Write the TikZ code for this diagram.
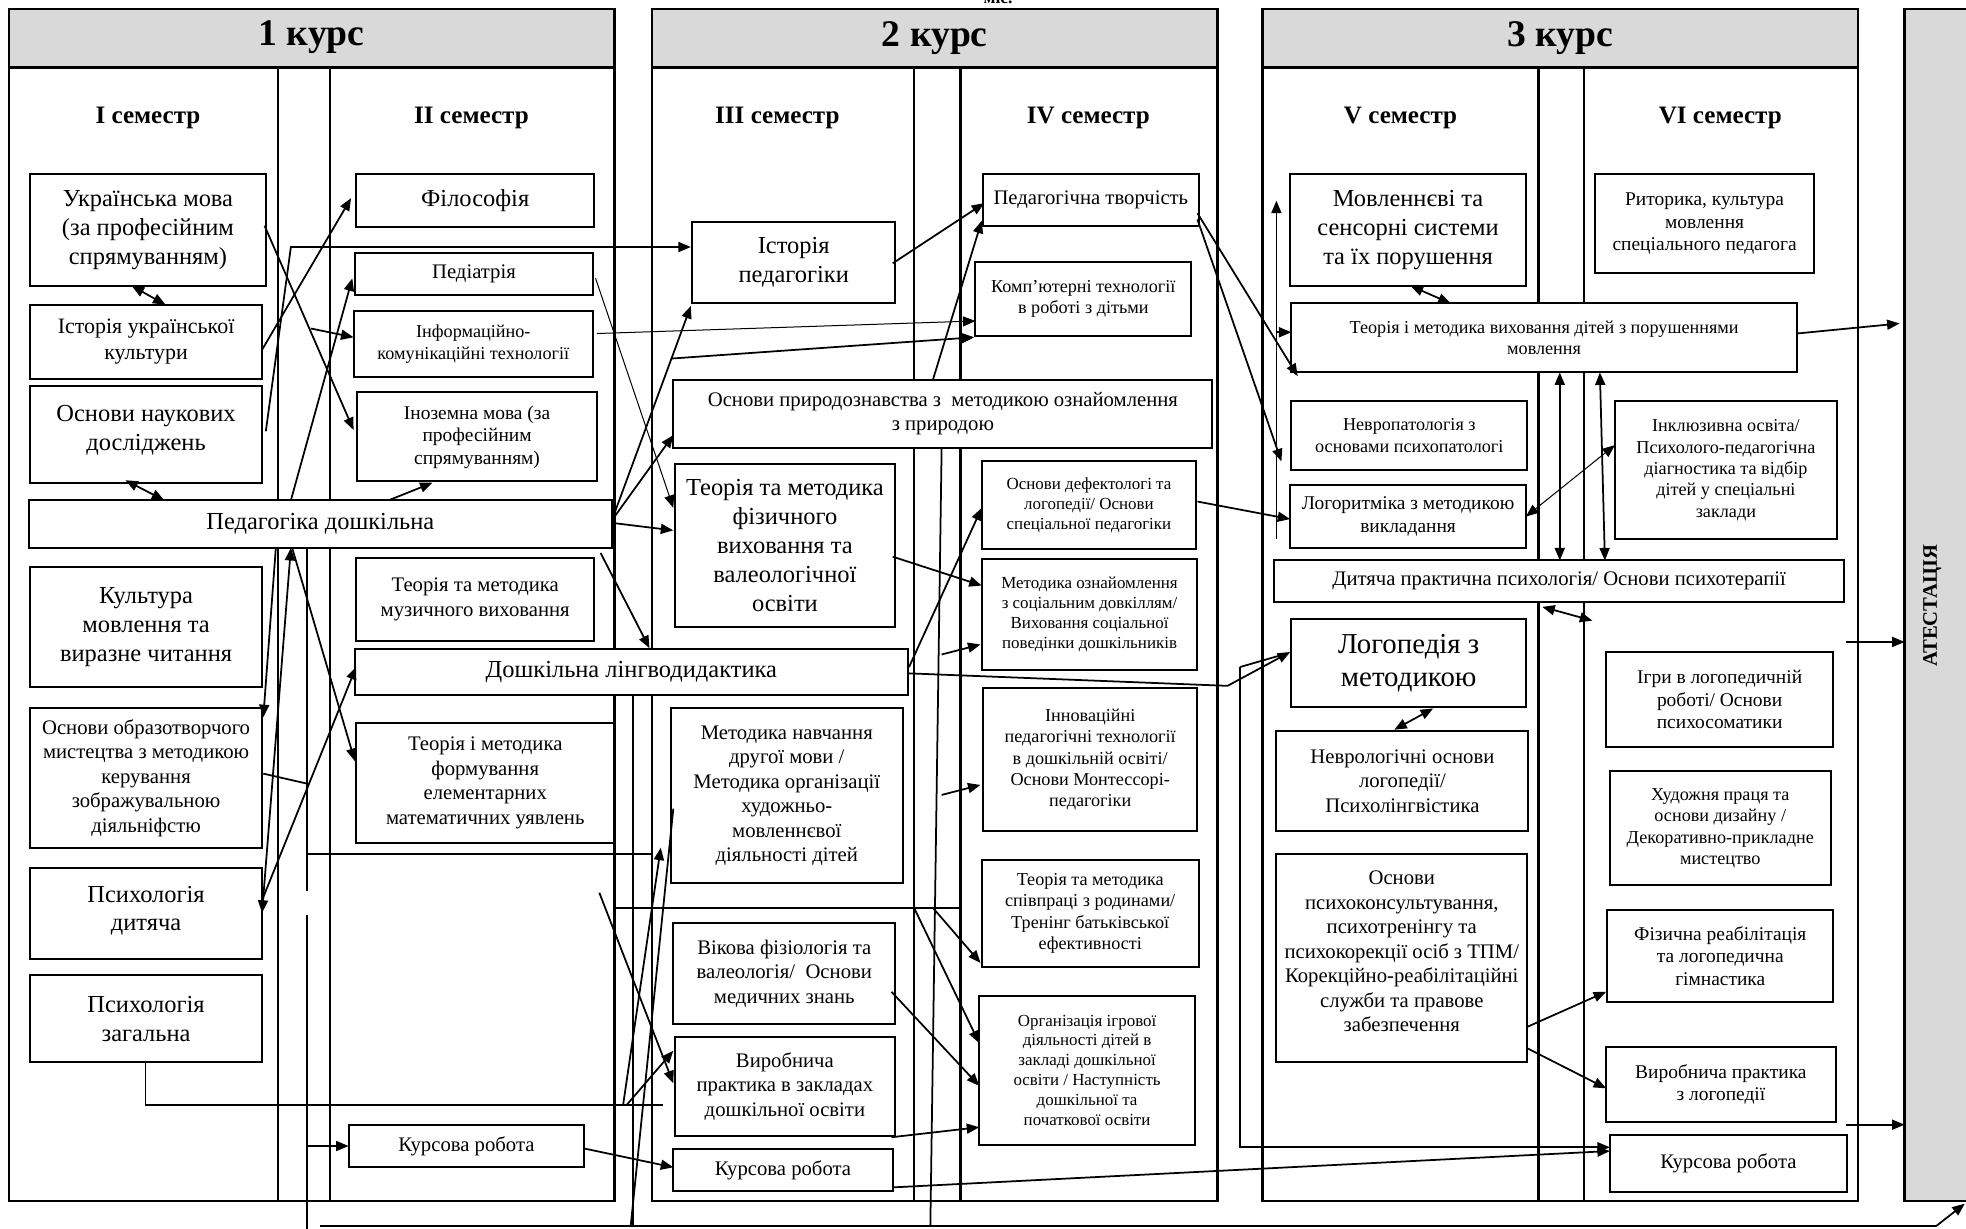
\documentclass[tikz,border=0pt]{standalone}
\usepackage{fontspec}
\setmainfont{Liberation Serif}
\usetikzlibrary{arrows.meta}
\definecolor{hdr}{HTML}{D9D9D9}
\tikzset{
 box/.style={draw, fill=white, line width=1.6pt, inner sep=1pt, align=center},
 frame/.style={draw, line width=2pt},
 ar/.style={line width=1.4pt, -{Triangle[length=10pt,width=8pt]}},
 dar/.style={line width=1.4pt, {Triangle[length=10pt,width=8pt]}-{Triangle[length=10pt,width=8pt]}},
 tar/.style={line width=0.8pt, -{Triangle[length=10pt,width=8pt]}},
 tdar/.style={line width=0.8pt, {Triangle[length=10pt,width=8pt]}-{Triangle[length=10pt,width=8pt]}},
 ln/.style={line width=1.4pt},
 f13/.style={font=\fontsize{13.5}{15.8}\selectfont},
 f14/.style={font=\fontsize{14.5}{17}\selectfont},
 f15/.style={font=\fontsize{15.5}{18}\selectfont},
 f16/.style={font=\fontsize{16.5}{19.5}\selectfont},
 f17/.style={font=\fontsize{17.5}{21}\selectfont},
 f19/.style={font=\fontsize{19.5}{23}\selectfont},
 f22/.style={font=\fontsize{23}{27}\selectfont},
 semt/.style={font=\bfseries\fontsize{20}{24}\selectfont},
 curt/.style={font=\bfseries\fontsize{30}{34}\selectfont},
}
\newcommand\bx[7]{\node[box,#6,minimum width={(#4)-(#2)},minimum height={(#5)-(#3)}] (#1) at ({((#2)+(#4))/2},{((#3)+(#5))/2}) {#7};}
\newcommand\course[6]{%
 \fill[hdr] (#1,7) rectangle (#2,54);
 \draw[frame] (#1,7) rectangle (#2,958);
 \draw[frame] (#1,54) -- (#2,54);
 \draw[line width=1.7pt] (#3,54) -- (#3,958) (#4,54) -- (#4,958);
 \node[curt] (#6) at ({((#1)+(#2))/2},30) {#5};
}
\begin{document}
\begin{tikzpicture}[x=1pt,y=-1pt]
\useasboundingbox (0,0) rectangle (1568,980);
\fill[white] (0,0) rectangle (1568,980);
\node[font=\bfseries\fontsize{14}{16}\selectfont] (mis) at (796,-2) {міс.};

% frames
\course{7}{490}{222}{263}{1 курс}{c1}
\course{520}{971}{729}{766}{2 курс}{c2}
\course{1007}{1482}{1227}{1263}{3 курс}{c3}
\fill[hdr] (1519,7) rectangle (1580,958);
\draw[frame] (1519,7) rectangle (1580,958);
\node[rotate=90,font=\bfseries\fontsize{16.5}{19}\selectfont] (att) at (1541,483) {АТЕСТАЦІЯ};

\node[semt] (s1) at (118,94) {I семестр};
\node[semt] (s2) at (376,94) {II семестр};
\node[semt] (s3) at (620,94) {III семестр};
\node[semt] (s4) at (868,94) {IV семестр};
\node[semt] (s5) at (1117,94) {V семестр};
\node[semt] (s6) at (1372,94) {VI семестр};

% course 1, semester I
\bx{ukr}{24}{139}{212}{228}{f19}{Українська мова\\(за професійним\\спрямуванням)}
\bx{istk}{24}{243}{209}{302}{f17}{Історія української\\культури}
\bx{osnd}{24}{308}{209}{385}{f19}{Основи наукових\\досліджень\\[-12pt]}
\bx{pedd}{23}{399}{488}{437}{f19}{Педагогіка дошкільна}
\bx{kult}{24}{452}{209}{548}{f19}{Культура\\мовлення та\\виразне читання}
\bx{obraz}{24}{565}{209}{676}{f16}{Основи образотворчого\\мистецтва з методикою\\керування\\зображувальною\\діяльніфстю}
\bx{psd}{24}{692}{209}{765}{f19}{Психологія\\дитяча\\[-15pt]}
\bx{psz}{24}{778}{209}{847}{f19}{Психологія\\загальна}
% semester II
\bx{fil}{284}{139}{474}{181}{f19}{Філософія}
\bx{ped}{283}{202}{473}{235}{f16}{Педіатрія}
\bx{ikt}{282}{248}{473}{301}{f14}{Інформаційно-\\комунікаційні технології}
\bx{inoz}{285}{313}{476}{384}{f15}{Іноземна мова (за\\професійним\\спрямуванням)}
\bx{muz}{284}{445}{474}{511}{f16}{Теорія та методика\\музичного виховання}
\bx{dl}{283}{518}{724}{554}{f19}{Дошкільна лінгводидактика}
\bx{fem}{284}{577}{490}{672}{f16}{Теорія і методика\\формування\\елементарних\\математичних уявлень}
\bx{krb}{278}{897}{466}{931}{f16}{Курсова робота}
% semester III
\bx{istp}{552}{177}{714}{242}{f19}{Історія\\педагогіки}
\bx{prir}{537}{303}{967}{357}{f16}{Основи природознавства з~ методикою ознайомлення\\з природою}
\bx{fiz}{538}{370}{714}{500}{f19}{Теорія та методика\\фізичного\\виховання та\\валеологічної\\освіти}
\bx{mnav}{535}{565}{720}{704}{f16}{Методика навчання\\другої мови /\\Методика організації\\художньо-\\мовленнєвої\\діяльності дітей}
\bx{vik}{537}{736}{714}{817}{f16}{Вікова фізіологія та\\валеологія/~ Основи\\медичних знань}
\bx{vyr}{538}{827}{714}{906}{f16}{Виробнича\\практика в закладах\\дошкільної освіти}
\bx{krc}{537}{916}{712}{950}{f16}{Курсова робота}
% semester IV
\bx{tvor}{784}{139}{956}{180}{f16}{Педагогічна творчість}
\bx{komp}{778}{209}{950}{268}{f14}{Комп’ютерні технології\\в роботі з дітьми}
\bx{def}{783}{368}{954}{438}{f13}{Основи дефектологі та\\логопедії/ Основи\\спеціальної педагогіки}
\bx{mozn}{783}{446}{955}{534}{f13}{Методика ознайомлення\\з соціальним довкіллям/\\Виховання соціальної\\поведінки дошкільників}
\bx{inn}{784}{549}{955}{663}{f14}{Інноваційні\\педагогічні технології\\в дошкільній освіті/\\Основи Монтессорі-\\педагогіки}
\bx{spiv}{783}{686}{956}{771}{f14}{Теорія та методика\\співпраці з родинами/\\Тренінг батьківської\\ефективності}
\bx{ihr}{781}{794}{953}{913}{f13}{Організація ігрової\\діяльності дітей в\\закладі дошкільної\\освіти / Наступність\\дошкільної та\\початкової освіти}
% semester V
\bx{movs}{1029}{139}{1217}{228}{f19}{Мовленнєві та\\сенсорні системи\\та їх порушення}
\bx{tmv}{1030}{242}{1433}{297}{f14}{Теорія і методика виховання дітей з порушеннями\\мовлення}
\bx{nevp}{1030}{320}{1218}{375}{f14}{Невропатологія з\\основами психопатологі}
\bx{logr}{1029}{387}{1217}{437}{f15}{Логоритміка з методикою\\викладання}
\bx{dpp}{1016}{447}{1471}{480}{f16}{Дитяча практична психологія/ Основи психотерапії}
\bx{logm}{1030}{494}{1217}{564}{f22}{Логопедія з\\методикою}
\bx{nevr}{1018}{583}{1219}{663}{f16}{Неврологічні основи\\логопедії/\\Психолінгвістика}
\bx{psk}{1018}{681}{1218}{847}{f16}{Основи\\психоконсультування,\\психотренінгу та\\психокорекції осіб з ТПМ/\\Корекційно-реабілітаційні\\служби та правове\\забезпечення\\[-9pt]}
% semester VI
\bx{rit}{1272}{139}{1447}{218}{f15}{Риторика, культура\\мовлення\\спеціального педагога}
\bx{inkl}{1288}{320}{1465}{430}{f14}{Інклюзивна освіта/\\Психолого-педагогічна\\діагностика та відбір\\дітей у спеціальні\\заклади}
\bx{ihry}{1281}{520}{1462}{596}{f15}{Ігри в логопедичній\\роботі/ Основи\\психосоматики}
\bx{hud}{1284}{615}{1460}{706}{f14}{Художня праця та\\основи дизайну /\\Декоративно-прикладне\\мистецтво}
\bx{fizr}{1282}{726}{1462}{799}{f15}{Фізична реабілітація\\та логопедична\\гімнастика}
\bx{vprl}{1281}{835}{1464}{895}{f15}{Виробнича практика\\з логопедії}
\bx{krf}{1284}{905}{1473}{951}{f16}{Курсова робота}

% ---- connectors, course 1
\draw[dar] (105,228) -- (132,243);
\draw[ar] (211,180) -- (282,343);
\draw[ar] (209,279) -- (280,158);
\draw[ar] (248,262) -- (282,269);
\draw[ar] (212,344) -- (232,197) -- (551,197);
\draw[dar] (100,383) -- (131,399);
\draw[ar] (232,399) -- (281,222);
\draw[ar] (310,399) -- (345,385);
\draw[ar] (220,437) -- (210,572);
\draw[dar] (232,437) -- (209,728);
\draw[ar] (233,437) -- (283,607);
\draw[ar] (209,718) -- (284,532);
\draw[ln] (210,617) -- (245,625);
\draw[ln] (245,437) -- (245,711) (245,730) -- (245,980);
\draw[ar] (245,914) -- (278,914);
\draw[ln] (245,681) -- (519,681);
\draw[ln] (490,724) -- (766,724);
\draw[ln] (116,847) -- (116,881) -- (529,881);
\draw[ar] (466,916) -- (537,931);
\draw[ar] (478,712) -- (537,864);
\draw[ar] (500,881) -- (537,838);
\draw[ar] (497,881) -- (527,676);
\draw[ln] (505,554) -- (505,978);
\draw[ln] (503,978) -- (537,645);
% ---- course 2
\draw[ar] (488,415) -- (551,244);
\draw[ar] (488,415) -- (537,347);
\draw[ar] (488,417) -- (537,423);
\draw[ar] (479,441) -- (518,517);
\draw[tar] (475,222) -- (537,405);
\draw[tar] (476,266) -- (778,256);
\draw[ar] (535,286) -- (777,269);
\draw[ar] (712,210) -- (785,162);
\draw[ar] (744,303) -- (783,176);
\draw[ln] (751,357) -- (742,978);
\draw[ar] (712,444) -- (783,467);
\draw[ar] (725,532) -- (783,405);
\draw[ar] (751,522) -- (782,514);
\draw[ar] (751,634) -- (782,626);
\draw[ar] (729,724) -- (781,832);
\draw[ar] (744,724) -- (782,768);
\draw[ar] (711,791) -- (781,866);
\draw[ar] (711,907) -- (781,899);
\draw[ar] (724,537) -- (979,547) -- (1029,520);
\draw[ln] (989,532) -- (1027,521);
\draw[ar] (989,532) -- (989,915) -- (1284,915);
\draw[ar] (712,947) -- (1284,918);
\draw[ar] (955,170) -- (1035,300);
\draw[ar] (955,175) -- (1022,368);
\draw[ar] (955,400) -- (1029,414);
% ---- course 3
\draw[ar] (1018,430) -- (1018,160);
\draw[ar] (1018,265) -- (1030,265);
\draw[dar] (1125,228) -- (1157,242);
\draw[ar] (1433,266) -- (1515,258);
\draw[dar] (1244,297) -- (1244,447);
\draw[dar] (1276,297) -- (1280,447);
\draw[tdar] (1217,412) -- (1288,355);
\draw[dar] (1230,484) -- (1270,495);
\draw[ar] (1472,512) -- (1519,512);
\draw[dar] (1112,582) -- (1143,565);
\draw[ar] (1218,819) -- (1281,791);
\draw[ar] (1218,836) -- (1281,868);
\draw[ar] (1472,897) -- (1519,897);
% ---- bottom line
\draw[ln] (255,978) -- (1544,978);
\draw[ar] (1544,978) -- (1567,960);
\end{tikzpicture}
\end{document}
